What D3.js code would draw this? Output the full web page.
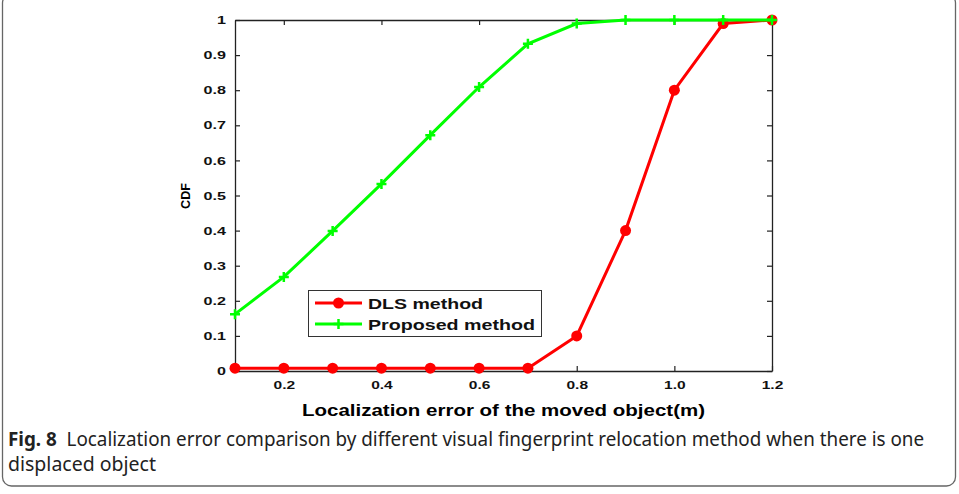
<!DOCTYPE html>
<html>
<head>
<meta charset="utf-8">
<script src="https://cdn.jsdelivr.net/npm/d3@7"></script>
<style>
  body { margin: 0; background: #fff; }
  text { font-family: "Liberation Sans", Arial, sans-serif; }
</style>
</head>
<body>
<div id="chart"></div>
<script>
const errors = [0.1, 0.2, 0.3, 0.4, 0.5, 0.6, 0.7, 0.8, 0.9, 1.0, 1.1, 1.2];
const dlsCdf = [0.008, 0.008, 0.008, 0.008, 0.008, 0.008, 0.008, 0.1, 0.4, 0.8, 0.99, 1.0];
const proposedCdf = [0.162, 0.268, 0.399, 0.533, 0.672, 0.809, 0.932, 0.99, 1.0, 1.0, 1.0, 1.0];
const xTicks = [0.2, 0.4, 0.6, 0.8, 1.0, 1.2];
const yTicks = [0, 0.1, 0.2, 0.3, 0.4, 0.5, 0.6, 0.7, 0.8, 0.9, 1];
const seriesNames = ["DLS method", "Proposed method"];

const W = 959, H = 494;
const margin = { left: 235, top: 20, right: 187, bottom: 123 };
const width = W - margin.left - margin.right;
const height = H - margin.top - margin.bottom;

const root = d3.select("#chart").append("svg")
  .attr("width", W)
  .attr("height", H);

// the plot font in the figure is a wide helvetica, so stretch the text a bit
function stretch(sel, k) {
  sel.each(function() {
    const len = this.getComputedTextLength();
    d3.select(this)
      .attr("textLength", len * k)
      .attr("lengthAdjust", "spacingAndGlyphs");
  });
}

// outer frame of the figure
root.append("rect")
  .attr("x", 2.5).attr("y", -6)
  .attr("width", 953).attr("height", 492)
  .attr("rx", 9)
  .attr("fill", "none")
  .attr("stroke", "#666")
  .attr("stroke-width", 1.3);

const svg = root.append("g")
  .attr("transform", `translate(${margin.left},${margin.top})`);

const x = d3.scaleLinear().domain([0.1, 1.2]).range([0, width]);
const y = d3.scaleLinear().domain([0, 1]).range([height, 0]);

const yFmt = v => (v === 0 || v === 1) ? String(v) : d3.format(".1f")(v);

function styleAxis(g) {
  g.select(".domain").attr("stroke", "#222").attr("stroke-width", 1.3);
  g.selectAll(".tick line").attr("stroke", "#222").attr("stroke-width", 1.2);
  g.selectAll("text")
    .attr("font-size", 11.5)
    .attr("font-weight", "bold")
    .attr("fill", "#111");
}

svg.append("g")
  .attr("transform", `translate(0,${height})`)
  .call(d3.axisBottom(x).tickValues(xTicks).tickFormat(d3.format(".1f"))
    .tickSizeInner(-5).tickSizeOuter(0).tickPadding(10))
  .call(styleAxis)
  .call(g => g.selectAll("text").call(stretch, 1.35));

svg.append("g")
  .call(d3.axisLeft(y).tickValues(yTicks).tickFormat(yFmt)
    .tickSizeInner(-5).tickSizeOuter(0).tickPadding(9))
  .call(styleAxis)
  .call(g => g.selectAll("text").call(stretch, 1.4));

svg.append("g")
  .call(d3.axisTop(x).tickValues(xTicks).tickFormat("")
    .tickSizeInner(-5).tickSizeOuter(0))
  .call(styleAxis);

svg.append("g")
  .attr("transform", `translate(${width},0)`)
  .call(d3.axisRight(y).tickValues(yTicks).tickFormat("")
    .tickSizeInner(-5).tickSizeOuter(0))
  .call(styleAxis);

// axis titles
svg.append("text")
  .attr("x", width / 2)
  .attr("y", height + 45)
  .attr("text-anchor", "middle")
  .attr("font-size", 16.5)
  .attr("font-weight", "bold")
  .attr("textLength", 403)
  .attr("lengthAdjust", "spacingAndGlyphs")
  .text("Localization error of the moved object(m)");

svg.append("text")
  .attr("transform", "rotate(-90)")
  .attr("x", -(196 - margin.top))
  .attr("y", 190 - margin.left)
  .attr("text-anchor", "middle")
  .attr("font-size", 12)
  .attr("font-weight", "bold")
  .attr("textLength", 26)
  .attr("lengthAdjust", "spacingAndGlyphs")
  .text("CDF");

const line = d3.line()
  .x((d, i) => x(errors[i]))
  .y(d => y(d));

// DLS series
svg.append("path")
  .datum(dlsCdf)
  .attr("fill", "none")
  .attr("stroke", "#ff0000")
  .attr("stroke-width", 3)
  .attr("d", line);

svg.selectAll("circle.dls")
  .data(dlsCdf)
  .join("circle")
  .attr("class", "dls")
  .attr("cx", (d, i) => x(errors[i]))
  .attr("cy", d => y(d))
  .attr("r", 5.5)
  .attr("fill", "#ff0000");

// Proposed series
svg.append("path")
  .datum(proposedCdf)
  .attr("fill", "none")
  .attr("stroke", "#00ff00")
  .attr("stroke-width", 3)
  .attr("d", line);

svg.selectAll("path.prop")
  .data(proposedCdf)
  .join("path")
  .attr("class", "prop")
  .attr("transform", (d, i) => `translate(${x(errors[i])},${y(d)})`)
  .attr("d", "M-5,0H5M0,-5V5")
  .attr("stroke", "#00ff00")
  .attr("stroke-width", 2.5);

// legend
const legend = svg.append("g")
  .attr("transform", `translate(${308 - margin.left},${290 - margin.top})`);

legend.append("rect")
  .attr("x", 0.5).attr("y", 0.5)
  .attr("width", 233).attr("height", 46)
  .attr("fill", "#fff")
  .attr("stroke", "#333")
  .attr("stroke-width", 1);

const legendColors = ["#ff0000", "#00ff00"];
const legendWidths = [115, 167];
seriesNames.forEach((name, i) => {
  const ly = 13 + i * 21;
  legend.append("line")
    .attr("x1", 7).attr("x2", 54)
    .attr("y1", ly).attr("y2", ly)
    .attr("stroke", legendColors[i])
    .attr("stroke-width", 3);
  if (i === 0) {
    legend.append("circle")
      .attr("cx", 30.5).attr("cy", ly).attr("r", 5.5)
      .attr("fill", legendColors[i]);
  } else {
    legend.append("path")
      .attr("transform", `translate(30.5,${ly})`)
      .attr("d", "M-5,0H5M0,-5V5")
      .attr("stroke", legendColors[i])
      .attr("stroke-width", 2.5);
  }
  legend.append("text")
    .attr("x", 60)
    .attr("y", ly + 5.5)
    .attr("font-size", 15.5)
    .attr("font-weight", "bold")
    .attr("fill", "#111")
    .attr("textLength", legendWidths[i])
    .attr("lengthAdjust", "spacingAndGlyphs")
    .text(name);
});

// caption: condensed look by squeezing horizontally to the measured widths
function caption(yPos, parts, targetWidth) {
  const t = root.append("text")
    .attr("font-size", 20)
    .attr("fill", "#222")
    .style("font-family", "'Noto Sans', 'Open Sans', sans-serif");
  parts.forEach(p => t.append("tspan").attr("font-weight", p.bold ? "bold" : null).text(p.text));
  const sx = targetWidth / t.node().getComputedTextLength();
  t.attr("transform", `translate(8,${yPos}) scale(${sx},1)`);
}

caption(446, [
  { text: "Fig. 8", bold: true },
  { text: "\u00a0 Localization error comparison by different visual fingerprint relocation method when there is one" }
], 917);
caption(471, [{ text: "displaced object" }], 148);
</script>
</body>
</html>
